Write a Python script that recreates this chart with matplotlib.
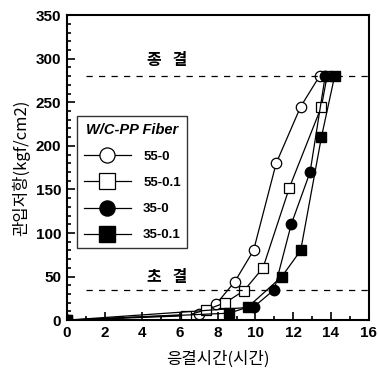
import matplotlib.pyplot as plt
from matplotlib.ticker import MultipleLocator

plt.rcParams['font.family'] = ['Liberation Sans', 'Noto Sans CJK KR', 'DejaVu Sans']

# 데이터
t_55_0 = [0, 7.0, 7.9, 8.9, 9.9, 11.1, 12.4, 13.4]
p_55_0 = [0, 7, 18, 44, 80, 180, 245, 280]

t_55_01 = [0, 6.3, 7.4, 8.4, 9.4, 10.4, 11.8, 13.5, 13.8]
p_55_01 = [0, 5, 12, 20, 34, 60, 152, 245, 280]

t_35_0 = [0, 9.9, 11.0, 11.9, 12.9, 13.7]
p_35_0 = [0, 15, 35, 110, 170, 280]

t_35_01 = [0, 8.6, 9.6, 11.4, 12.4, 13.5, 14.2]
p_35_01 = [0, 8, 15, 50, 80, 210, 280]

labels = ['55-0', '55-0.1', '35-0', '35-0.1']
x_ticks = [0, 2, 4, 6, 8, 10, 12, 14, 16]
y_ticks = [0, 50, 100, 150, 200, 250, 300, 350]

kr = ['Noto Sans CJK KR', 'DejaVu Sans']


def generar_grafica():
    fig = plt.figure(figsize=(3.78, 3.78), dpi=100)
    ax = fig.add_axes([0.177, 0.153, 0.798, 0.807])

    ms = 7.5
    ax.plot(t_55_0, p_55_0, color='black', lw=0.9, marker='o', ms=ms,
            mfc='white', mec='black', mew=0.9, label=labels[0])
    ax.plot(t_55_01, p_55_01, color='black', lw=0.9, marker='s', ms=ms,
            mfc='white', mec='black', mew=0.9, label=labels[1])
    ax.plot(t_35_0, p_35_0, color='black', lw=0.9, marker='o', ms=ms,
            mfc='black', mec='black', label=labels[2])
    ax.plot(t_35_01, p_35_01, color='black', lw=0.9, marker='s', ms=ms,
            mfc='black', mec='black', label=labels[3])

    # 초결 / 종결 기준선
    ax.hlines([280, 35], 1.0, 16, colors='black', linestyles=(0, (5, 5)), lw=0.9)
    ax.text(5.3, 298, '종   결', fontsize=11.5, fontweight='bold',
            family=kr, ha='center', va='center')
    ax.text(5.3, 49, '초   결', fontsize=11.5, fontweight='bold',
            family=kr, ha='center', va='center')

    ax.set_xlim(0, 16)
    ax.set_ylim(0, 350)
    ax.set_xticks(x_ticks)
    ax.set_yticks(y_ticks)
    ax.xaxis.set_minor_locator(MultipleLocator(1))
    ax.yaxis.set_minor_locator(MultipleLocator(10))
    ax.tick_params(which='both', direction='in', top=False, right=False,
                   labelsize=11, width=1.2)
    ax.tick_params(which='major', length=6, pad=4)
    ax.tick_params(which='minor', length=3)
    for lab in ax.get_xticklabels() + ax.get_yticklabels():
        lab.set_fontweight('bold')
    for sp in ax.spines.values():
        sp.set_linewidth(1.5)

    ax.set_xlabel('응결시간(시간)', fontsize=12, family=kr, labelpad=8)
    ax.set_ylabel('관입저항(kgf/cm2)', fontsize=12, family=kr, labelpad=4)

    leg = ax.legend(loc='upper left', bbox_to_anchor=(0.012, 0.69),
                    title='W/C-PP Fiber', frameon=True, fancybox=False,
                    edgecolor='black', markerscale=1.45, handlelength=3.6,
                    prop={'weight': 'bold', 'size': 9.5}, labelspacing=1.05,
                    borderpad=0.5, handletextpad=0.9)
    leg.get_title().set_fontweight('bold')
    leg.get_title().set_fontstyle('italic')
    leg.get_title().set_fontsize(10.5)
    leg.get_frame().set_linewidth(1.0)

    fig.savefig('out.png', dpi=100)


if __name__ == "__main__":
    generar_grafica()
